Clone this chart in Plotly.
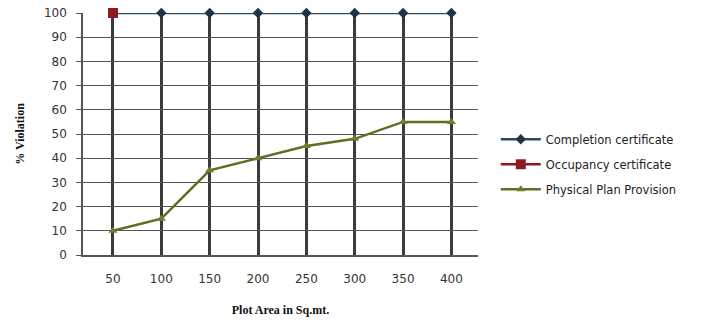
import plotly.graph_objects as go

plot_area = ["50", "100", "150", "200", "250", "300", "350", "400"]
completion = [100, 100, 100, 100, 100, 100, 100, 100]
occupancy = [100, None, None, None, None, None, None, None]
physical = [10, 15, 35, 40, 45, 48, 55, 55]
y_ticks = [0, 10, 20, 30, 40, 50, 60, 70, 80, 90, 100]

fig = go.Figure()
fig.add_trace(go.Scatter(
    x=plot_area, y=completion, name="Completion certificate", mode="lines+markers",
    legendgroup="a", cliponaxis=False,
    line=dict(color="#2c4a63", width=2.5),
    marker=dict(symbol="diamond", size=8, color="#1f3447")))
fig.add_trace(go.Scatter(
    x=plot_area, y=occupancy, name="Occupancy certificate", mode="lines+markers",
    legendgroup="b", cliponaxis=False,
    line=dict(color="#8e1b22", width=2.5),
    marker=dict(symbol="square", size=10, color="#8e1b22")))
fig.add_trace(go.Scatter(
    x=plot_area, y=physical, name="Physical Plan Provision", mode="lines+markers",
    legendgroup="c", cliponaxis=False,
    line=dict(color="#5f6f22", width=2.5),
    marker=dict(symbol="triangle-up", size=8, color="#6f7d30")))

fig.update_layout(
    width=713, height=322,
    margin=dict(l=83, r=235, t=13, b=67, autoexpand=False),
    paper_bgcolor="white", plot_bgcolor="white",
    font=dict(family="DejaVu Sans", size=12, color="#333"),
    showlegend=True,
    legend=dict(x=1.045, y=0.375, xanchor="left", yanchor="middle",
                font=dict(size=11.5, color="#222"), bgcolor="rgba(0,0,0,0)",
                itemwidth=40, tracegroupgap=6),
)
fig.update_xaxes(
    type="category", range=[-0.62, 7.55], automargin=False,
    showgrid=True, gridcolor="#3a3a3a", gridwidth=3,
    showline=True, linecolor="#555", linewidth=1.5,
    ticks="", ticklabelstandoff=12,
    tickfont=dict(size=12, color="#333"),
    title=dict(text="<b>Plot Area in Sq.mt.</b>", font=dict(family="Liberation Serif", size=12, color="#111"), standoff=20),
)
fig.update_yaxes(
    range=[0, 100], tickvals=y_ticks, automargin=False,
    showgrid=True, gridcolor="#555", gridwidth=1.3,
    showline=True, linecolor="#555", linewidth=1.5,
    ticks="outside", ticklen=5, tickcolor="#555", ticklabelstandoff=7,
    tickfont=dict(size=12, color="#333"),
    zeroline=False,
    title=dict(text="<b>% Violation</b>", font=dict(family="Liberation Serif", size=12, color="#111"), standoff=17),
)

fig.write_html("out.html", config={"displayModeBar": False},
               post_script="document.body.style.margin='0';")
